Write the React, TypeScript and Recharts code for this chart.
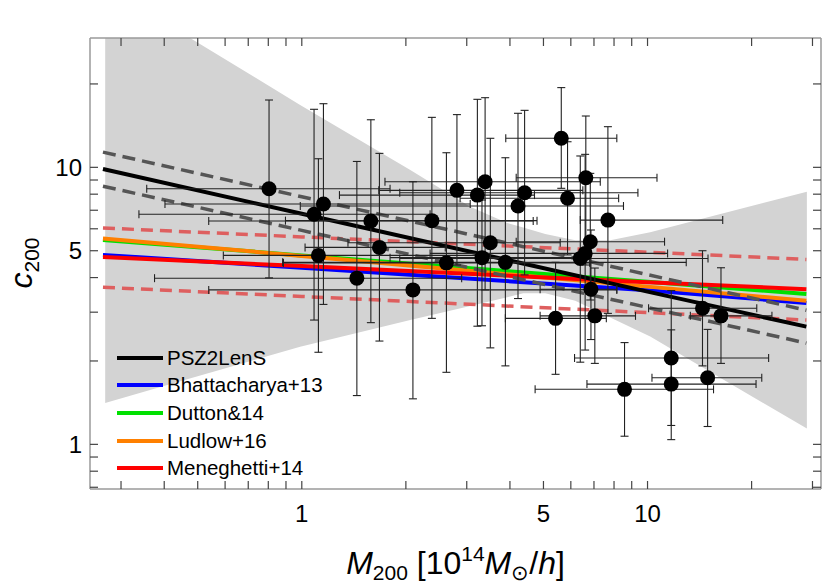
import React from 'react';
import { ComposedChart, XAxis, YAxis, Line, Area, Scatter, ErrorBar } from 'recharts';

const FONT = '"Liberation Sans", Arial, Helvetica, sans-serif';

// axis ranges and ticks (log scales)
const massDomain = [0.244, 31.75];
const concDomain = [0.69, 29.3];
const massTicks = [0.3, 0.4, 0.5, 0.6, 0.7, 0.8, 0.9, 1, 2, 3, 4, 5, 6, 7, 8, 9, 10, 20, 30];
const concTicks = [0.7, 0.8, 0.9, 1, 2, 3, 4, 5, 6, 7, 8, 9, 10, 20];
const labelledTicks = [1, 5, 10];

// model relations, sampled at the same masses
const modelMass = [0.266, 1, 10, 28.8];
const psz2lens = [9.86, 6.8, 3.56, 2.66];
const psz2lensHi = [11.35, 7.83, 4.1, 3.05];
const psz2lensLo = [8.55, 5.92, 3.12, 2.32];
const bhattacharya = [4.83, 4.34, 3.6, 3.24];
const dutton = [5.47, 4.81, 3.86, 3.49];
const ludlow = [5.54, 4.79, 3.71, 3.3];
const meneghetti = [4.75, 4.4, 3.85, 3.63];
const meneghettiHi = [6.04, 5.61, 4.94, 4.65];
const meneghettiLo = [3.69, 3.42, 2.99, 2.81];

// grey credible band
const bandMass = [0.27, 0.445, 0.989, 2.06, 3.07, 3.93, 4.37, 5.06, 6.18, 7.8, 10.18, 14.2, 28.9];
const bandHi = [45, 30.8, 16.8, 9.78, 7.21, 6.3, 6.06, 5.75, 5.46, 5.46, 5.83, 6.49, 8.17];
const bandLo = [1.41, 1.69, 2.25, 2.81, 3.16, 3.4, 3.51, 3.51, 3.3, 2.87, 2.45, 1.92, 1.14];

// clusters: mass [1e14 Msun/h], c200 and their error ranges
const clMass = [0.804, 1.085, 1.155, 1.117, 1.443, 1.584, 1.677, 2.096, 2.378, 2.81, 3.22, 2.62, 3.32, 3.39, 4.41, 4.22, 5.63,
  5.87, 6.63, 7.68, 3.51, 3.88, 6.83, 6.6, 6.39, 6.86, 5.42, 7.04, 8.58, 14.42, 16.31, 11.71, 11.71, 14.92];
const clConc = [8.37, 6.77, 7.37, 4.81, 3.98, 6.4, 5.14, 3.61, 6.42, 8.26, 7.94, 4.52, 4.72, 8.87, 8.1, 7.25, 12.73,
  7.73, 9.17, 6.45, 5.34, 4.54, 5.39, 4.89, 4.69, 3.63, 2.85, 2.91, 1.58, 3.1, 2.91, 2.05, 1.65, 1.74];
const clMassLo = [0.356, 0.338, 0.402, 0.593, 0.375, 0.538, 1.022, 0.538, 0.897, 1.67, 1.285, 0.885, 1.8, 1.74, 1.92, 0.99, 3.89,
  2.87, 4.17, 6.39, 1.36, 0.88, 4.17, 2.35, 1.92, 4.89, 3.88, 4.89, 4.73, 10.07, 13.3, 6.15, 6.68, 10.3];
const clMassHi = [1.8, 2.35, 3.07, 3.28, 2.9, 4.67, 2.6, 8.15, 4.79, 6.5, 4.71, 6.8, 6.5, 7.3, 9.38, 8.52, 8.15,
  8.25, 10.65, 16.5, 5.59, 12.94, 11.2, 11.43, 14.96, 8.15, 7.6, 9.23, 15.52, 20.7, 22.9, 22.4, 20.6, 21.4];
const clConcLo = [3.99, 2.81, 3.2, 2.15, 1.5, 2.75, 2.36, 1.46, 2.85, 4.44, 2.67, 1.82, 2.68, 3.61, 4.09, 3.36, 8.4,
  4.83, 4.44, 2.97, 2.23, 1.92, 3.32, 2.19, 1.98, 2.39, 1.79, 1.96, 1.07, 1.92, 1.96, 1.17, 1.04, 1.16];
const clConcHi = [17.5, 16.2, 16.97, 10.74, 10.5, 14.85, 11.23, 8.87, 15.15, 15.5, 17.6, 11.29, 7.62, 17.84, 16.06, 15.67, 19.4,
  12.37, 15.32, 14.02, 12.73, 10.83, 9.51, 11.14, 10.99, 5.94, 4.54, 4.33, 2.33, 5.0, 4.34, 3.59, 2.59, 2.6];

const legendNames = ['PSZ2LenS', 'Bhattacharya+13', 'Dutton&14', 'Ludlow+16', 'Meneghetti+14'];
const legendColors = ['#000000', '#0000ff', '#00e000', '#ff8000', '#ff0000'];

const series = (vals: number[]) => modelMass.map((m, i) => ({ m, c: vals[i] }));
const bandData = bandMass.map((m, i) => ({ m, range: [bandLo[i], bandHi[i]] }));
const clusters = clMass.map((m, i) => ({
  m,
  c: clConc[i],
  xErr: [m - clMassLo[i], clMassHi[i] - m],
  yErr: [clConc[i] - clConcLo[i], clConcHi[i] - clConc[i]],
}));

// plot frame edges (chart size minus margins/axis sizes) for the mirrored ticks
const PLOT_TOP = 38;
const PLOT_RIGHT = 821;

const fmt = (v: number) => (labelledTicks.includes(v) ? String(v) : '');
const blank = () => '';
const frame = { stroke: '#9a9a9a', strokeWidth: 1.5 };
const tickLn = { stroke: '#444', strokeWidth: 1.2 };

// bottom tick label plus the matching inward tick on the top frame
const XTick = (props: any) => {
  const { x, y, payload } = props;
  return (
    <g>
      <line x1={x} y1={PLOT_TOP} x2={x} y2={PLOT_TOP + 8} stroke="#444" strokeWidth={1.2} />
      <text x={x} y={y + 17} textAnchor="middle" fontSize={24} fontFamily={FONT} fill="#000">
        {fmt(payload.value)}
      </text>
    </g>
  );
};

// left tick label plus the matching inward tick on the right frame
const YTick = (props: any) => {
  const { x, y, payload } = props;
  return (
    <g>
      <line x1={PLOT_RIGHT - 8} y1={y} x2={PLOT_RIGHT} y2={y} stroke="#444" strokeWidth={1.2} />
      <text x={x} y={y + 8.5} textAnchor="end" fontSize={24} fontFamily={FONT} fill="#000">
        {fmt(payload.value)}
      </text>
    </g>
  );
};

const XTitle = (props: any) => {
  const vb = props.viewBox || {};
  return (
    <text x={vb.x + vb.width / 2} y={574} textAnchor="middle" fontSize={32} fontFamily={FONT} fill="#000">
      <tspan fontStyle="italic">M</tspan>
      <tspan fontSize={21} dy={6}>200</tspan>
      <tspan dy={-6}> [10</tspan>
      <tspan fontSize={21} dy={-13}>14</tspan>
      <tspan fontStyle="italic" dy={13}>M</tspan>
      <tspan fontSize={21} dy={6}>⊙</tspan>
      <tspan dy={-6}>/</tspan>
      <tspan fontStyle="italic">h</tspan>
      <tspan>]</tspan>
    </text>
  );
};

const YTitle = () => (
  <text transform="translate(32, 263) rotate(-90)" textAnchor="middle" fontSize={32} fontFamily={FONT} fill="#000">
    <tspan fontStyle="italic">c</tspan>
    <tspan fontSize={21} dy={7}>200</tspan>
  </text>
);

const Dot = (props: any) => <circle cx={props.cx} cy={props.cy} r={7.5} fill="#000" />;

export default function App() {
  return (
    <div style={{ position: 'absolute', left: 0, top: 0, width: 830, height: 585, background: '#fff' }}>
      <ComposedChart width={830} height={585} margin={{ top: 28, right: 4, bottom: 36, left: 30 }}>
        <XAxis
          dataKey="m"
          type="number"
          scale="log"
          domain={massDomain}
          allowDataOverflow
          ticks={massTicks}
          interval={0}
          height={60}
          tickSize={-8}
          tickMargin={24}
          axisLine={frame}
          tickLine={tickLn}
          tick={XTick}
          label={{ content: XTitle }}
        />
        <XAxis
          xAxisId="top"
          orientation="top"
          dataKey="m"
          type="number"
          scale="log"
          domain={massDomain}
          allowDataOverflow
          ticks={massTicks}
          tickFormatter={blank}
          height={10}
          axisLine={frame}
          tickLine={false}
          tick={false}
        />
        <YAxis
          type="number"
          scale="log"
          domain={concDomain}
          allowDataOverflow
          ticks={concTicks}
          interval={0}
          width={60}
          tickSize={-8}
          tickMargin={16}
          axisLine={frame}
          tickLine={tickLn}
          tick={YTick}
          label={{ content: YTitle }}
        />
        <YAxis
          yAxisId="right"
          orientation="right"
          type="number"
          scale="log"
          domain={concDomain}
          allowDataOverflow
          ticks={concTicks}
          tickFormatter={blank}
          width={5}
          axisLine={frame}
          tickLine={false}
          tick={false}
        />

        <Area data={bandData} dataKey="range" type="linear" fill="#d3d3d3" fillOpacity={1} stroke="none" isAnimationActive={false} />
        <Line data={series(psz2lens)} xAxisId="top" yAxisId="right" dataKey="c" stroke="none" dot={false} isAnimationActive={false} />

        <Line data={series(bhattacharya)} dataKey="c" type="linear" dot={false} stroke="#0000ff" strokeWidth={4} isAnimationActive={false} />
        <Line data={series(dutton)} dataKey="c" type="linear" dot={false} stroke="#00e000" strokeWidth={4} isAnimationActive={false} />
        <Line data={series(ludlow)} dataKey="c" type="linear" dot={false} stroke="#ff8000" strokeWidth={4} isAnimationActive={false} />
        <Line data={series(meneghetti)} dataKey="c" type="linear" dot={false} stroke="#ff0000" strokeWidth={4} isAnimationActive={false} />
        <Line data={series(meneghettiHi)} dataKey="c" type="linear" dot={false} stroke="#de5f5f" strokeWidth={3.5} strokeDasharray="12 7" isAnimationActive={false} />
        <Line data={series(meneghettiLo)} dataKey="c" type="linear" dot={false} stroke="#de5f5f" strokeWidth={3.5} strokeDasharray="12 7" isAnimationActive={false} />
        <Line data={series(psz2lensHi)} dataKey="c" type="linear" dot={false} stroke="#555" strokeWidth={3.5} strokeDasharray="13 7" isAnimationActive={false} />
        <Line data={series(psz2lensLo)} dataKey="c" type="linear" dot={false} stroke="#555" strokeWidth={3.5} strokeDasharray="13 7" isAnimationActive={false} />
        <Line data={series(psz2lens)} dataKey="c" type="linear" dot={false} stroke="#000" strokeWidth={4} isAnimationActive={false} />

        <Scatter data={clusters} dataKey="c" shape={Dot} isAnimationActive={false}>
          <ErrorBar dataKey="xErr" direction="x" width={4} stroke="#222" strokeWidth={1.1} />
          <ErrorBar dataKey="yErr" direction="y" width={4} stroke="#222" strokeWidth={1.1} />
        </Scatter>
      </ComposedChart>

      <div style={{ position: 'absolute', left: 117, top: 344, fontFamily: FONT, fontSize: 20.5, color: '#000' }}>
        {legendNames.map((name, i) => (
          <div key={name} style={{ display: 'flex', alignItems: 'center', height: 27.6 }}>
            <span style={{ display: 'inline-block', width: 46, height: 4, background: legendColors[i], marginRight: 4 }} />
            <span>{name}</span>
          </div>
        ))}
      </div>
    </div>
  );
}
